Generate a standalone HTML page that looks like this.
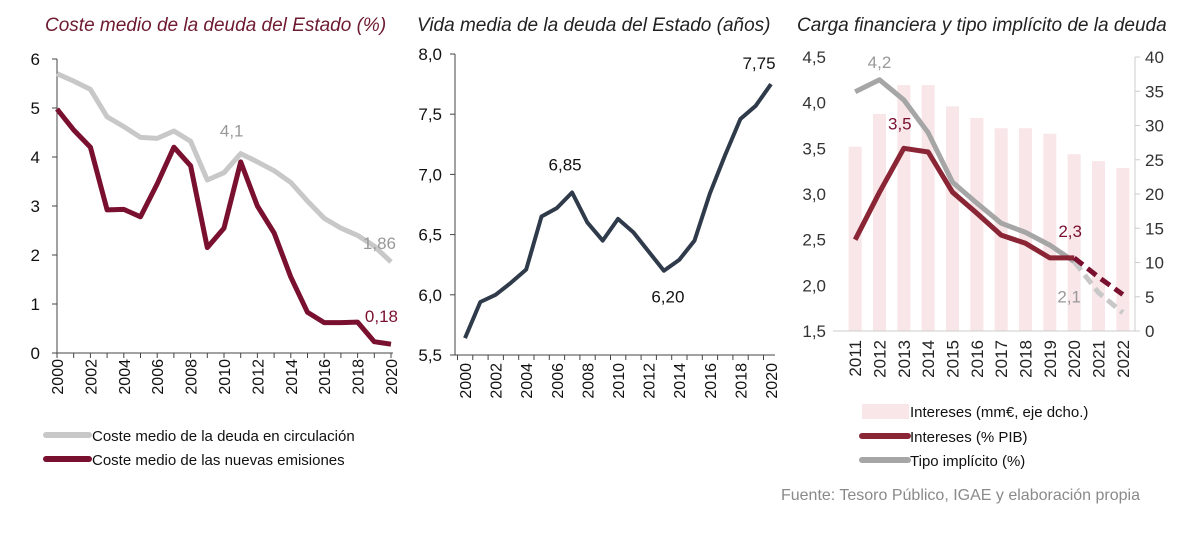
<!DOCTYPE html>
<html><head><meta charset="utf-8"><style>
html,body{margin:0;padding:0;background:#fff;}
body{width:1200px;height:544px;overflow:hidden;font-family:"Liberation Sans Narrow","Liberation Sans",sans-serif;}
svg text{font-family:"Liberation Sans Narrow","Liberation Sans",sans-serif;}
</style></head><body>
<svg id="c" width="1200" height="544">
<text x="45" y="31" font-size="19" font-style="italic" fill="#6e1a30" font-family="Liberation Sans">Coste medio de la deuda del Estado (%)</text>
<text x="417" y="31" font-size="19" font-style="italic" fill="#222" font-family="Liberation Sans">Vida media de la deuda del Estado (años)</text>
<text x="797" y="31" font-size="19" font-style="italic" fill="#222" font-family="Liberation Sans">Carga financiera y tipo implícito de la deuda</text>
<g id="g1"></g><g id="g2"></g><g id="g3"></g>
<g>
<line x1="46" y1="435" x2="89" y2="435" stroke="#c8c8c8" stroke-width="6" stroke-linecap="round"/>
<text x="92" y="441" font-size="15" fill="#111">Coste medio de la deuda en circulación</text>
<line x1="46" y1="459" x2="89" y2="459" stroke="#7a1030" stroke-width="6" stroke-linecap="round"/>
<text x="92" y="465" font-size="15" fill="#111">Coste medio de las nuevas emisiones</text>
</g>
<g>
<rect x="862" y="404" width="47" height="15" fill="#f8e6e8"/>
<text x="910" y="417" font-size="15" fill="#111">Intereses (mm€, eje dcho.)</text>
<line x1="862" y1="436" x2="908" y2="436" stroke="#8a2535" stroke-width="6" stroke-linecap="round"/>
<text x="910" y="442" font-size="15" fill="#111">Intereses (% PIB)</text>
<line x1="862" y1="460" x2="908" y2="460" stroke="#a6a6a6" stroke-width="6" stroke-linecap="round"/>
<text x="910" y="466" font-size="15" fill="#111">Tipo implícito (%)</text>
</g>
<text x="1140" y="500" font-size="16" fill="#8a8a8a" text-anchor="end">Fuente: Tesoro Público, IGAE y elaboración propia</text>
</svg>
<script>
const NS="http://www.w3.org/2000/svg";
// Chart 1 data
const years1=[2000,2001,2002,2003,2004,2005,2006,2007,2008,2009,2010,2011,2012,2013,2014,2015,2016,2017,2018,2019,2020];
const costeCirculacion=[5.7,5.55,5.38,4.82,4.62,4.4,4.38,4.53,4.32,3.53,3.68,4.07,3.9,3.72,3.48,3.1,2.75,2.55,2.4,2.18,1.86];
const costeEmisiones=[4.98,4.55,4.2,2.92,2.93,2.78,3.45,4.2,3.82,2.15,2.55,3.9,3.0,2.45,1.55,0.83,0.62,0.62,0.63,0.23,0.18];
const yTicks1=["0","1","2","3","4","5","6"];
// Chart 2 data
const vidaMedia=[5.64,5.94,6.0,6.1,6.21,6.65,6.72,6.85,6.6,6.45,6.63,6.52,6.36,6.2,6.29,6.45,6.84,7.16,7.46,7.57,7.75];
const yTicks2=["5,5","6,0","6,5","7,0","7,5","8,0"];
// Chart 3 data
const years3=["2011","2012","2013","2014","2015","2016","2017","2018","2019","2020","2021","2022"];
const interesesMM=[26.9,31.7,35.9,35.9,32.8,31.1,29.6,29.6,28.8,25.8,24.8,23.8];
const interesesPIB=[2.5,3.02,3.5,3.46,3.02,2.79,2.55,2.46,2.3,2.3,2.09,1.9];
const tipoImplicito=[4.12,4.25,4.03,3.67,3.13,2.9,2.68,2.58,2.44,2.26,1.92,1.7];
const yTicks3L=["1,5","2,0","2,5","3,0","3,5","4,0","4,5"];
const yTicks3R=["0","5","10","15","20","25","30","35","40"];

function el(tag,attrs,parent,txt){const e=document.createElementNS(NS,tag);for(const k in attrs)e.setAttribute(k,attrs[k]);if(txt!==undefined)e.textContent=txt;parent.appendChild(e);return e;}
function pathD(xs,ys){return xs.map((x,i)=>(i?"L":"M")+x.toFixed(1)+","+ys[i].toFixed(1)).join("");}

// ---- Chart 1
(function(){
const g=document.getElementById('g1');
const x0=57,x1=391,yT=59,yB=353;
const sx=i=>x0+(x1-x0)*i/(years1.length-1);
const sy=v=>yB-(yB-yT)*v/6;
el('line',{x1:x0,y1:yT,x2:x0,y2:yB,stroke:'#444','stroke-width':1},g);
el('line',{x1:x0,y1:yB,x2:x1+2,y2:yB,stroke:'#444','stroke-width':1},g);
yTicks1.forEach((t,i)=>{const y=sy(i);el('line',{x1:x0-5,y1:y,x2:x0,y2:y,stroke:'#444'},g);
 const tx=el('text',{x:x0-17,y:y+6,'font-size':17,fill:'#111','text-anchor':'end'},g,t);
 });
years1.forEach((yr,i)=>{const x=sx(i);el('line',{x1:x,y1:yB,x2:x,y2:yB+5,stroke:'#444'},g);
 if(i%2===0){const tx=el('text',{transform:`translate(${x+6},${yB+6}) rotate(-90)`,'font-size':16,fill:'#111','text-anchor':'end'},g,String(yr));
 }});
const p1=el('path',{d:pathD(years1.map((_,i)=>sx(i)),costeCirculacion.map(sy)),fill:'none',stroke:'#c8c8c8','stroke-width':5,'stroke-linejoin':'round'},g);

const p2=el('path',{d:pathD(years1.map((_,i)=>sx(i)),costeEmisiones.map(sy)),fill:'none',stroke:'#7a1030','stroke-width':5,'stroke-linejoin':'round'},g);

const n=years1.length-1;
let l=el('text',{x:sx(11)-9,y:sy(costeCirculacion[11])-17,'font-size':17,fill:'#999','text-anchor':'middle'},g,String(costeCirculacion[11].toFixed(1)).replace('.',','));

l=el('text',{x:sx(n)+5,y:sy(costeCirculacion[n])-13,'font-size':17,fill:'#999','text-anchor':'end'},g,costeCirculacion[n].toFixed(2).replace('.',','));

l=el('text',{x:sx(n)+7,y:sy(costeEmisiones[n])-22,'font-size':17,fill:'#7a1030','text-anchor':'end'},g,costeEmisiones[n].toFixed(2).replace('.',','));

})();

// ---- Chart 2
(function(){
const g=document.getElementById('g2');
const x0=455,xa=465,x1=771,yT=54,yB=355;
const sx=i=>xa+(x1-xa)*i/(years1.length-1);
const sy=v=>yB-(yB-yT)*(v-5.5)/2.5;
el('line',{x1:x0,y1:yT,x2:x0,y2:yB,stroke:'#444'},g);
el('line',{x1:x0,y1:yB,x2:x1+4,y2:yB,stroke:'#444'},g);
yTicks2.forEach((t,i)=>{const y=sy(5.5+i*0.5);el('line',{x1:x0-5,y1:y,x2:x0,y2:y,stroke:'#444'},g);
 const tx=el('text',{x:x0-13,y:y+6,'font-size':17,fill:'#111','text-anchor':'end'},g,t);
 });
years1.forEach((yr,i)=>{const x=sx(i);el('line',{x1:x-7.5,y1:yB,x2:x-7.5,y2:yB+5,stroke:'#444'},g);
 if(i%2===0){const tx=el('text',{transform:`translate(${x+6},${yB+8}) rotate(-90)`,'font-size':16,fill:'#111','text-anchor':'end'},g,String(yr));
 }});
const p=el('path',{d:pathD(years1.map((_,i)=>sx(i)),vidaMedia.map(sy)),fill:'none',stroke:'#2f3a4a','stroke-width':4,'stroke-linejoin':'round'},g);

let l=el('text',{x:sx(7)-7,y:sy(vidaMedia[7])-22,'font-size':17,fill:'#111','text-anchor':'middle'},g,vidaMedia[7].toFixed(2).replace('.',','));

l=el('text',{x:sx(13)+4,y:sy(vidaMedia[13])+32,'font-size':17,fill:'#111','text-anchor':'middle'},g,vidaMedia[13].toFixed(2).replace('.',','));

l=el('text',{x:sx(20)-12,y:sy(vidaMedia[20])-15,'font-size':17,fill:'#111','text-anchor':'middle'},g,vidaMedia[20].toFixed(2).replace('.',','));

})();

// ---- Chart 3
(function(){
const g=document.getElementById('g3');
const x0=843,x1=1135,yT=57,yB=331;
const bw=(x1-x0)/years3.length;
const sx=i=>x0+bw*(i+0.5);
const syL=v=>yB-(yB-yT)*(v-1.5)/3;
const syR=v=>yB-(yB-yT)*v/40;
interesesMM.forEach((v,i)=>{const r=el('rect',{x:sx(i)-6.5,y:syR(v),width:13,height:yB-syR(v),fill:'#f8e6e8'},g);
 });
el('line',{x1:x0-10,y1:yB,x2:x1,y2:yB,stroke:'#ccc'},g);
el('line',{x1:x1,y1:yT,x2:x1,y2:yB,stroke:'#ccc'},g);
yTicks3L.forEach((t,i)=>{const y=syL(1.5+i*0.5);
 const tx=el('text',{x:826,y:y+6,'font-size':17,fill:'#333','text-anchor':'end'},g,t);
 });
yTicks3R.forEach((t,i)=>{const y=syR(i*5);el('line',{x1:x1,y1:y,x2:x1+5,y2:y,stroke:'#ccc'},g);
 const tx=el('text',{x:x1+10,y:y+6,'font-size':17,fill:'#333'},g,t);
 });
years3.forEach((yr,i)=>{const tx=el('text',{transform:`translate(${sx(i)+6},${yB+9}) rotate(-90)`,'font-size':17,fill:'#222','text-anchor':'end'},g,yr);
 });
const xs=years3.map((_,i)=>sx(i));
const sol=10;
let p=el('path',{d:pathD(xs.slice(0,sol),tipoImplicito.slice(0,sol).map(syL)),fill:'none',stroke:'#a6a6a6','stroke-width':5,'stroke-linejoin':'round'},g);

p=el('path',{d:pathD(xs.slice(sol-1),tipoImplicito.slice(sol-1).map(syL)),fill:'none',stroke:'#c8c8c8','stroke-width':5,'stroke-dasharray':'11 6'},g);

p=el('path',{d:pathD(xs.slice(0,sol),interesesPIB.slice(0,sol).map(syL)),fill:'none',stroke:'#8a2535','stroke-width':5,'stroke-linejoin':'round'},g);

p=el('path',{d:pathD(xs.slice(sol-1),interesesPIB.slice(sol-1).map(syL)),fill:'none',stroke:'#7a1030','stroke-width':5,'stroke-dasharray':'11 6'},g);

let l=el('text',{x:sx(1),y:syL(tipoImplicito[1])-12,'font-size':17,fill:'#999','text-anchor':'middle'},g,'4,2');

l=el('text',{x:sx(2)-4,y:syL(interesesPIB[2])-19,'font-size':17,fill:'#7a1030','text-anchor':'middle'},g,interesesPIB[2].toFixed(1).replace('.',','));

l=el('text',{x:sx(9)-4,y:syL(interesesPIB[9])-21,'font-size':17,fill:'#7a1030','text-anchor':'middle'},g,interesesPIB[9].toFixed(1).replace('.',','));

l=el('text',{x:sx(9)-5,y:syL(tipoImplicito[9])+41,'font-size':17,fill:'#999','text-anchor':'middle'},g,'2,1');

})();
</script>
</body></html>
